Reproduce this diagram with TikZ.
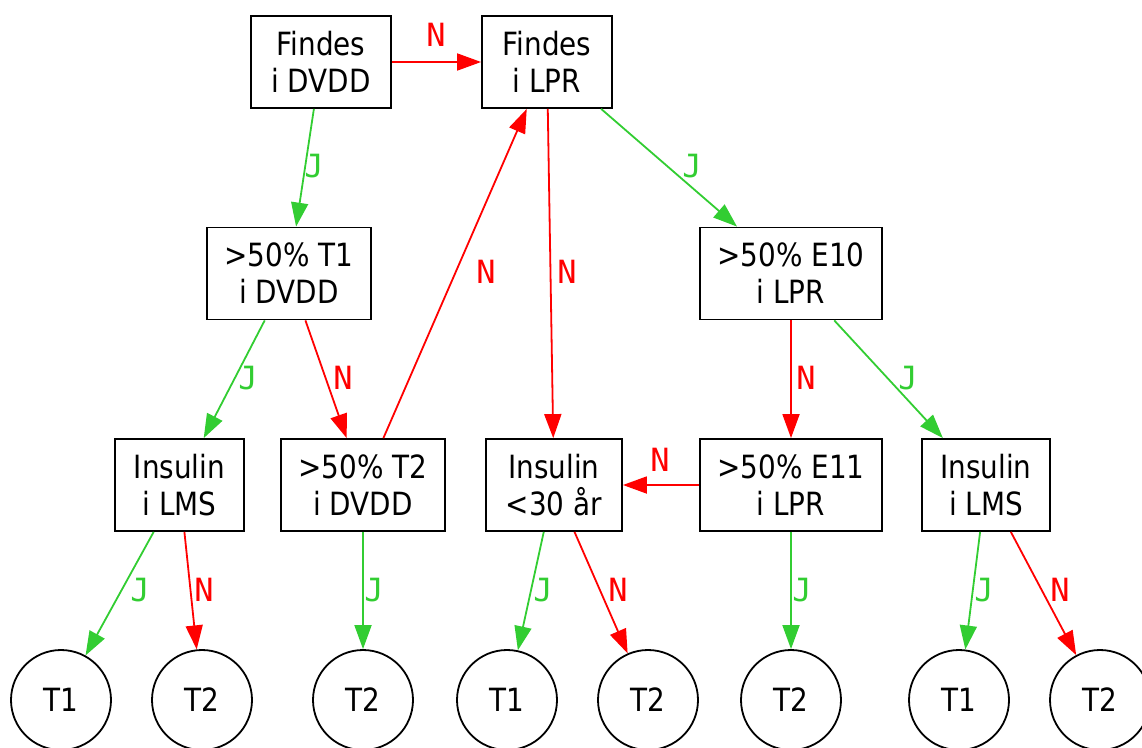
\documentclass[tikz,border=0pt]{standalone}
\usepackage{fontspec}
\setmainfont{DejaVu Sans}[FakeStretch=0.87]
\newfontfamily\labfont{DejaVu Sans Mono}
\usetikzlibrary{arrows.meta}
\definecolor{ered}{HTML}{FF0000}
\definecolor{egreen}{HTML}{32CD32}
\tikzset{
  box/.style={draw=black, line width=1.8pt, minimum height=92pt, align=center, inner sep=0pt,
    font=\fontsize{32}{37}\selectfont},
  leaf/.style={draw=black, line width=1.8pt, circle, minimum size=100pt, inner sep=0pt,
    font=\fontsize{32}{37}\selectfont},
  jedge/.style={draw=egreen, line width=1.8pt, -{Triangle[length=24pt,width=17pt]}},
  nedge/.style={draw=ered, line width=1.8pt, -{Triangle[length=24pt,width=17pt]}},
  jlab/.style={text=egreen, font=\labfont\fontsize{32}{37}\selectfont, inner sep=0pt},
  nlab/.style={text=ered, font=\labfont\fontsize{32}{37}\selectfont, inner sep=0pt}
}
\begin{document}
\begin{tikzpicture}[x=1pt,y=-1pt]
\useasboundingbox (0,0) rectangle (1142,747);
% decision boxes
\node[box, minimum width=140pt] (A) at (321,62) {Findes\\i DVDD};
\node[box, minimum width=130pt] (B) at (547,62) {Findes\\i LPR};
\node[box, minimum width=164pt] (C) at (289,273.5) {>50\% T1\\i DVDD};
\node[box, minimum width=182pt] (E10) at (791,273.5) {>50\% E10\\i LPR};
\node[box, minimum width=129pt] (IL1) at (179.5,485) {Insulin\\i LMS};
\node[box, minimum width=164pt] (T2D) at (363,485) {>50\% T2\\i DVDD};
\node[box, minimum width=136pt] (I30) at (554,485) {Insulin\\<30 år};
\node[box, minimum width=182pt] (E11) at (791,485) {>50\% E11\\i LPR};
\node[box, minimum width=128pt] (IL2) at (986,485) {Insulin\\i LMS};
% leaves
\node[leaf] (L1) at (61,700) {T1};
\node[leaf] (L2) at (202,700) {T2};
\node[leaf] (L3) at (363,700) {T2};
\node[leaf] (L4) at (507,700) {T1};
\node[leaf] (L5) at (648,700) {T2};
\node[leaf] (L6) at (791,700) {T2};
\node[leaf] (L7) at (959,700) {T1};
\node[leaf] (L8) at (1100,700) {T2};
% edges
\draw[nedge] (A) -- (B) node[nlab] at (436,35) {N};
\draw[jedge] (A) -- (C) node[jlab] at (314,166) {J};
\draw[jedge] (B) -- (E10) node[jlab] at (692,166) {J};
\draw[nedge] (B) -- (I30) node[nlab] at (567,272) {N};
\draw[nedge] (T2D) -- (B) node[nlab] at (486,272) {N};
\draw[jedge] (C) -- (IL1) node[jlab] at (248,378) {J};
\draw[nedge] (C) -- (T2D) node[nlab] at (343,378) {N};
\draw[nedge] (E10) -- (E11) node[nlab] at (806,378) {N};
\draw[jedge] (E10) -- (IL2) node[jlab] at (908,378) {J};
\draw[nedge] (E11) -- (I30) node[nlab] at (660,460) {N};
\draw[jedge] (IL1) -- (L1) node[jlab] at (140,590) {J};
\draw[nedge] (IL1) -- (L2) node[nlab] at (204,590) {N};
\draw[jedge] (T2D) -- (L3) node[jlab] at (374,590) {J};
\draw[jedge] (I30) -- (L4) node[jlab] at (543,590) {J};
\draw[nedge] (I30) -- (L5) node[nlab] at (618,590) {N};
\draw[jedge] (E11) -- (L6) node[jlab] at (802,590) {J};
\draw[jedge] (IL2) -- (L7) node[jlab] at (984,590) {J};
\draw[nedge] (IL2) -- (L8) node[nlab] at (1060,590) {N};
\end{tikzpicture}
\end{document}
